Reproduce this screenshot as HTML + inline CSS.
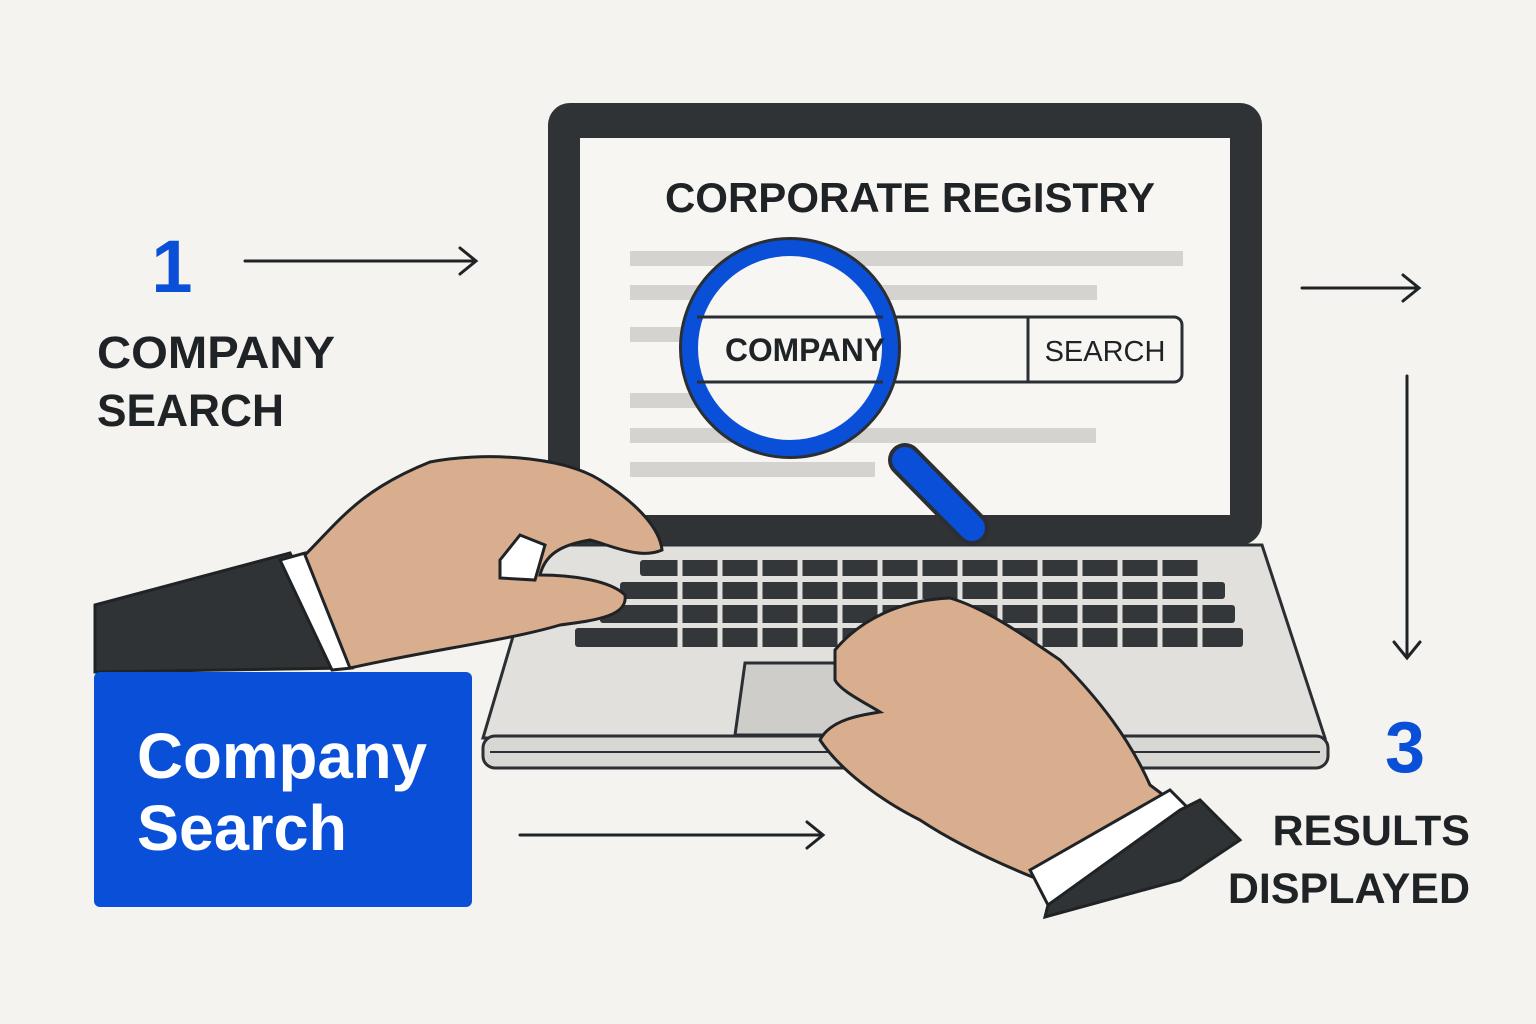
<!DOCTYPE html>
<html><head><meta charset="utf-8"><style>
html,body{margin:0;padding:0;background:#f4f3ef;}
svg{display:block}
text{font-family:"Liberation Sans",sans-serif;font-weight:bold}
</style></head><body>
<svg width="1536" height="1024" viewBox="0 0 1536 1024" xmlns="http://www.w3.org/2000/svg">
<rect width="1536" height="1024" fill="#f4f3ef"/>
<path d="M540 545 L1262 545 L1325 738 L483 738 Z" fill="#e2e0dd" stroke="#2b2f33" stroke-width="3"/>
<rect x="483" y="736" width="845" height="32" rx="12" fill="#d9d7d4" stroke="#2b2f33" stroke-width="3"/>
<line x1="490" y1="752" x2="1320" y2="752" stroke="#2b2f33" stroke-width="2"/>
<g fill="#33373a">
<rect x="640" y="560" width="560" height="16" rx="3"/>
<rect x="620" y="582" width="605" height="17" rx="3"/>
<rect x="600" y="605" width="635" height="18" rx="3"/>
<rect x="575" y="628" width="668" height="19" rx="3"/>
</g>
<g stroke="#e2e0dd" stroke-width="5">
<path d="M680 558V650M720 558V650M760 558V650M800 558V650M840 558V650M880 558V650M920 558V650M960 558V650M1000 558V650M1040 558V650M1080 558V650M1120 558V650M1160 558V650M1200 558V650"/>
</g>
<path d="M745 663 L925 663 L930 735 L735 735 Z" fill="#cfcdca" stroke="#2b2f33" stroke-width="3"/>
<rect x="548" y="103" width="714" height="442" rx="22" fill="#2f3336"/>
<rect x="580" y="138" width="650" height="377" fill="#f7f6f3"/>
<text x="910" y="212" font-size="42" text-anchor="middle" fill="#1f2326">CORPORATE REGISTRY</text>
<g fill="#d5d3cf">
<rect x="630" y="251" width="553" height="15"/>
<rect x="630" y="285" width="467" height="15"/>
<rect x="630" y="327" width="80" height="15"/>
<rect x="630" y="393" width="80" height="15"/>
<rect x="630" y="428" width="466" height="15"/>
<rect x="630" y="462" width="245" height="15"/>
</g>
<rect x="700" y="317" width="482" height="65" rx="8" fill="#f7f6f3" stroke="#2b2f33" stroke-width="3"/>
<line x1="1028" y1="317" x2="1028" y2="382" stroke="#2b2f33" stroke-width="3"/>
<text x="1105" y="361" font-size="29" text-anchor="middle" fill="#1f2326" style="font-weight:normal">SEARCH</text>
<line x1="905" y1="460" x2="972" y2="528" stroke="#2b2f33" stroke-width="34" stroke-linecap="round"/>
<line x1="905" y1="460" x2="972" y2="528" stroke="#0a4fd8" stroke-width="26" stroke-linecap="round"/>
<circle cx="790" cy="348" r="100" fill="#f7f6f3" stroke="#2b2f33" stroke-width="22"/>
<circle cx="790" cy="348" r="100" fill="#f7f6f3" stroke="#0a4fd8" stroke-width="16"/>
<line x1="697" y1="317" x2="883" y2="317" stroke="#2b2f33" stroke-width="3"/>
<line x1="697" y1="382" x2="883" y2="382" stroke="#2b2f33" stroke-width="3"/>
<text x="805" y="361" font-size="32" text-anchor="middle" fill="#1f2326" textLength="160" lengthAdjust="spacingAndGlyphs">COMPANY</text>
<path d="M95 605 L290 553 L345 668 L95 672 Z" fill="#2f3336" stroke="#1f2326" stroke-width="3"/>
<path d="M280 560 L305 553 L352 668 L332 670 Z" fill="#fff" stroke="#1f2326" stroke-width="3"/>
<path d="M305 555 C340 520 360 490 430 462 C480 452 560 455 600 480 C640 505 660 530 662 550 C640 560 610 545 590 540 C560 545 545 555 540 575 C570 575 610 580 625 595 C628 615 600 620 560 625 C510 640 430 650 350 668 Z" fill="#d9ae8e" stroke="#1f2326" stroke-width="3"/>
<path d="M500 560 L520 535 L545 545 L535 580 L500 578 Z" fill="#fff" stroke="#1f2326" stroke-width="3"/>
<path d="M835 650 C860 620 900 600 950 598 C990 610 1030 640 1060 660 C1100 700 1130 740 1150 785 L1170 800 L1040 880 C990 860 950 840 920 820 C880 800 840 770 820 740 C830 720 860 715 880 712 C860 700 840 690 835 680 Z" fill="#d9ae8e" stroke="#1f2326" stroke-width="3"/>
<path d="M1030 870 L1170 790 L1190 810 L1048 905 Z" fill="#fff" stroke="#1f2326" stroke-width="3"/>
<path d="M1048 905 L1180 810 L1200 800 L1240 840 L1180 880 L1045 917 Z" fill="#2f3336" stroke="#1f2326" stroke-width="3"/>
<rect x="94" y="672" width="378" height="235" rx="6" fill="#0a4fd8"/>
<text x="137" y="778" font-size="64" fill="#fff" textLength="290" lengthAdjust="spacingAndGlyphs">Company</text>
<text x="137" y="850" font-size="64" fill="#fff" textLength="210" lengthAdjust="spacingAndGlyphs">Search</text>
<text x="172" y="292" font-size="74" text-anchor="middle" fill="#0a4fd8">1</text>
<text x="97" y="368" font-size="45" fill="#1f2326" textLength="238" lengthAdjust="spacingAndGlyphs">COMPANY</text>
<text x="97" y="426" font-size="45" fill="#1f2326" textLength="187" lengthAdjust="spacingAndGlyphs">SEARCH</text>
<text x="1405" y="772" font-size="72" text-anchor="middle" fill="#0a4fd8">3</text>
<text x="1470" y="845" font-size="43" text-anchor="end" fill="#1f2326">RESULTS</text>
<text x="1470" y="903" font-size="43" text-anchor="end" fill="#1f2326">DISPLAYED</text>
<g stroke="#1f2326" stroke-width="3" fill="none" stroke-linecap="round">
<path d="M245 261 H475 M460 248 L476 261 L460 274"/>
<path d="M1302 288 H1418 M1403 275 L1419 288 L1403 301"/>
<path d="M1407 376 V657 M1394 642 L1407 658 L1420 642"/>
<path d="M520 835 H822 M807 822 L823 835 L807 848"/>
</g>
</svg>
</body></html>
